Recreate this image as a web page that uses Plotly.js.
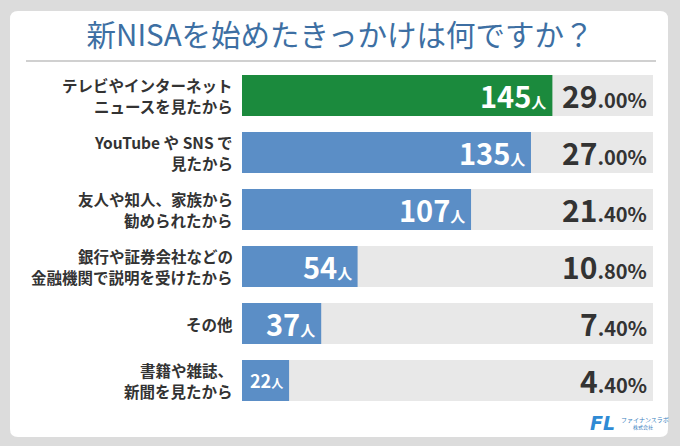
<!DOCTYPE html>
<html>
<head>
<meta charset="utf-8">
<script src="https://cdn.plot.ly/plotly-3.0.1.min.js"></script>
<style>
  html, body { margin: 0; padding: 0; background: #dcdcdc; }
  #chart { width: 680px; height: 446px; }
</style>
</head>
<body>
<div id="chart"></div>
<script>
const titleText = "新NISAを始めたきっかけは何ですか？";
const reasons = [
    "テレビやインターネット<br>ニュースを見たから",
    "YouTube や SNS で<br>見たから",
    "友人や知人、家族から<br>勧められたから",
    "銀行や証券会社などの<br>金融機関で説明を受けたから",
    "その他",
    "書籍や雑誌、<br>新聞を見たから"
];
const counts = [145, 135, 107, 54, 37, 22];
const percents = [29.00, 27.00, 21.40, 10.80, 7.40, 4.40];
const barColors = ["#1b8a3d", "#5b8ec6", "#5b8ec6", "#5b8ec6", "#5b8ec6", "#5b8ec6"];
const axisMax = 192;

// page geometry (pixels)
const W = 680, H = 446;
const M = { l: 242, r: 27, t: 67, b: 37 };
const plotW = W - M.l - M.r;
const plotH = H - M.t - M.b;
const px = x => (x - M.l) / plotW;
const py = y => (H - M.b - y) / plotH;

const font = "'Noto Sans CJK JP', 'Noto Sans', sans-serif";

const cardPath = (x0, y0, x1, y1, r) => {
    const X = v => px(v), Y = v => py(v);
    return [
        `M${X(x0 + r)},${Y(y0)}`,
        `L${X(x1 - r)},${Y(y0)}`,
        `Q${X(x1)},${Y(y0)} ${X(x1)},${Y(y0 + r)}`,
        `L${X(x1)},${Y(y1 - r)}`,
        `Q${X(x1)},${Y(y1)} ${X(x1 - r)},${Y(y1)}`,
        `L${X(x0 + r)},${Y(y1)}`,
        `Q${X(x0)},${Y(y1)} ${X(x0)},${Y(y1 - r)}`,
        `L${X(x0)},${Y(y0 + r)}`,
        `Q${X(x0)},${Y(y0)} ${X(x0 + r)},${Y(y0)}Z`
    ].join(" ");
};

// category labels, one annotation per line so the spacing can be set
const lineGap = 21.5;
const reasonLabels = reasons.flatMap(r => {
    const lines = r.split("<br>");
    const mid = (lines.length - 1) / 2;
    return lines.map((t, j) => ({
        x: 0, y: r, xref: "paper", yref: "y",
        xanchor: "right", yanchor: "middle", xshift: -8,
        yshift: (mid - j) * lineGap, borderpad: 0,
        showarrow: false, text: t,
        font: { family: font, size: 15.5, color: "#333333", weight: "bold" }
    }));
});

const countLabels = counts.map((c, i) => {
    const small = c < 30;
    return {
        x: c, y: reasons[i], xref: "x", yref: "y",
        xanchor: "right", yanchor: "middle", xshift: -4, yshift: 1,
        showarrow: false,
        text: small
            ? `${c}<span style="font-size:12px">人</span>`
            : `${c}<span style="font-size:15px">人</span>`,
        font: { family: font, size: small ? 18 : 29, color: "#ffffff", weight: "bold" }
    };
});

const pctLabels = percents.map((p, i) => {
    const [whole, dec] = p.toFixed(2).split(".");
    return {
        x: axisMax, y: reasons[i], xref: "x", yref: "y",
        xanchor: "right", yanchor: "middle", xshift: -5, yshift: 1,
        showarrow: false, borderpad: 0,
        text: `${whole}<span style="font-size:20px">.${dec}%</span>`,
        font: { family: font, size: 30, color: "#333333", weight: "bold" }
    };
});

const logo = [
    {
        x: px(616), y: py(423), xref: "paper", yref: "paper",
        xanchor: "right", yanchor: "middle", borderpad: 0,
        showarrow: false, text: "<b><i>FL</i></b>",
        font: { family: "'DejaVu Sans', sans-serif", size: 19, color: "#2f8ad4" }
    },
    {
        x: px(620), y: py(419), xref: "paper", yref: "paper",
        xanchor: "left", yanchor: "middle", borderpad: 0,
        showarrow: false, text: "ファイナンスラボ",
        font: { family: font, size: 6, color: "#3a7fc0" }
    },
    {
        x: px(643), y: py(427), xref: "paper", yref: "paper",
        xanchor: "center", yanchor: "middle", borderpad: 0,
        showarrow: false, text: "株式会社",
        font: { family: font, size: 5, color: "#3a7fc0" }
    }
];

Plotly.newPlot("chart", [
    {
        type: "bar", orientation: "h",
        x: reasons.map(() => axisMax), y: reasons,
        marker: { color: "#e8e8e8" },
        width: 0.72, hoverinfo: "skip"
    },
    {
        type: "bar", orientation: "h",
        x: counts, y: reasons,
        marker: { color: barColors },
        width: 0.72, hoverinfo: "skip"
    }
], {
    width: W, height: H,
    margin: M,
    barmode: "overlay",
    showlegend: false,
    paper_bgcolor: "#dcdcdc",
    plot_bgcolor: "rgba(0,0,0,0)",
    title: {
        text: titleText,
        x: 0.5, xanchor: "center",
        y: 1 - 36 / H, yanchor: "middle",
        font: { family: font, size: 29.5, color: "#3d6fa3" }
    },
    xaxis: {
        range: [0, axisMax], visible: false, fixedrange: true
    },
    yaxis: {
        type: "category", autorange: "reversed",
        showgrid: false, zeroline: false, showline: false,
        ticks: "", showticklabels: false,
        fixedrange: true
    },
    shapes: [
        {
            type: "path", xref: "paper", yref: "paper", layer: "below",
            path: cardPath(10, 11, 668, 437, 8),
            fillcolor: "#ffffff", line: { width: 0 }
        },
        {
            type: "line", xref: "paper", yref: "paper", layer: "below",
            x0: px(26), x1: px(656), y0: py(61), y1: py(61),
            line: { color: "#d0d0d0", width: 2 }
        }
    ],
    annotations: [...reasonLabels, ...countLabels, ...pctLabels, ...logo]
}, { displayModeBar: false, staticPlot: true });
</script>
</body>
</html>
